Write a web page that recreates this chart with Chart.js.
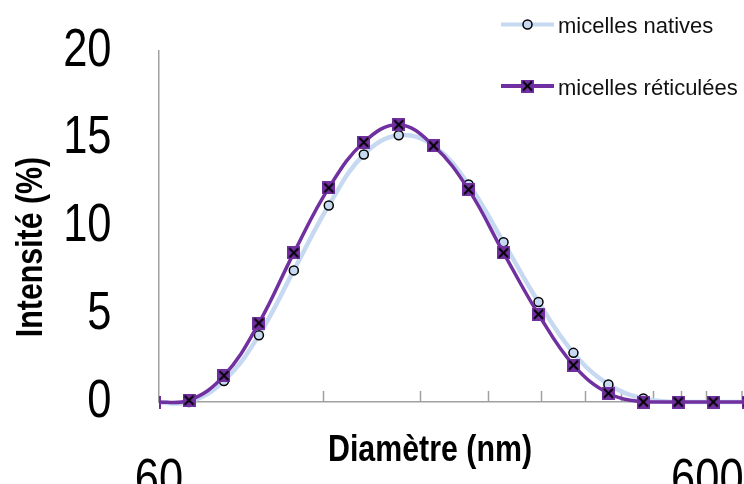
<!DOCTYPE html>
<html>
<head>
<meta charset="utf-8">
<script src="https://cdn.jsdelivr.net/npm/chart.js@4.4.0/dist/chart.umd.min.js"></script>
<style>
  html, body { margin: 0; padding: 0; background: #fff; overflow: hidden; }
  #cadre { position: relative; width: 744px; height: 484px; }
</style>
</head>
<body>
<div id="cadre"><canvas id="dls"></canvas></div>
<script>
// classes de taille (nm) et intensités (%)
const diametres = [58.77, 68.06, 78.82, 91.28, 105.7, 122.4, 141.8, 164.2, 190.1, 220.2, 255.0, 295.3, 342.0, 396.1, 458.7, 531.2, 615.1, 712.4];
const natives = [0, 0, 1.2, 3.8, 7.5, 11.2, 14.1, 15.2, 14.6, 12.4, 9.1, 5.7, 2.8, 1.0, 0.2, 0, 0, 0];
const reticulees = [0, 0.1, 1.5, 4.5, 8.5, 12.2, 14.8, 15.8, 14.6, 12.1, 8.5, 5.0, 2.1, 0.5, 0, 0, 0, 0];
const ticksX = [60, 120, 180, 240, 300, 360, 420, 480, 540, 600, 700];
const labelsX = [60, 600];
const ticksY = [0, 5, 10, 15, 20];

const bleu = '#c6d9f1';
const violet = '#7030a0';
const gris = '#a0a0a0';
const police = '"Liberation Sans", Arial, sans-serif';
const etroit = 0.82; // Arial Narrow ~ Arial compressé à 82 %

// marqueur carré violet avec une croix noire
function carreCroix(taille, couleur) {
    const c = document.createElement('canvas');
    c.width = taille;
    c.height = taille;
    const g = c.getContext('2d');
    g.fillStyle = couleur;
    g.fillRect(0, 0, taille, taille);
    g.strokeStyle = '#000';
    g.lineWidth = 1.8;
    g.beginPath();
    g.moveTo(2, 2); g.lineTo(taille - 2, taille - 2);
    g.moveTo(taille - 2, 2); g.lineTo(2, taille - 2);
    g.stroke();
    return c;
}
const marqueur = carreCroix(13, violet);

// texte en police étroite
function texteEtroit(ctx, txt, x, y, angle) {
    ctx.save();
    ctx.translate(x, y);
    if (angle) ctx.rotate(angle);
    ctx.scale(etroit, 1);
    ctx.fillText(txt, 0, 0);
    ctx.restore();
}

const habillage = {
    id: 'habillage',
    beforeDatasetsDraw(chart) {
        // petites graduations vers l'intérieur
        const { ctx, chartArea, scales: { x } } = chart;
        ctx.save();
        ctx.strokeStyle = gris;
        ctx.lineWidth = 1.5;
        ticksX.slice(1).forEach(v => {
            const px = Math.min(Math.round(x.getPixelForValue(v)) - 0.5, chartArea.right - 2);
            ctx.beginPath();
            ctx.moveTo(px, chartArea.bottom);
            ctx.lineTo(px, chartArea.bottom - 11);
            ctx.stroke();
        });
        ctx.restore();
    },
    afterDraw(chart) {
        const { ctx, chartArea, scales: { x, y } } = chart;
        ctx.save();
        ctx.fillStyle = '#000';

        // étiquettes des graduations
        ctx.font = '53px ' + police;
        ctx.textBaseline = 'middle';
        ctx.textAlign = 'right';
        y.ticks.forEach(t => {
            texteEtroit(ctx, String(t.value), chartArea.left - 47.5, y.getPixelForValue(t.value));
        });
        ctx.textAlign = 'center';
        x.ticks.forEach(t => {
            if (labelsX.includes(t.value)) {
                texteEtroit(ctx, String(t.value), x.getPixelForValue(t.value), chartArea.bottom + 79);
            }
        });

        // titres des axes
        ctx.font = 'bold 37px ' + police;
        ctx.textAlign = 'center';
        ctx.textBaseline = 'alphabetic';
        texteEtroit(ctx, 'Diamètre (nm)', chartArea.left + 271, chartArea.bottom + 59);
        texteEtroit(ctx, 'Intensité (%)', 42, 247, -Math.PI / 2);

        // légende
        ctx.font = '22px ' + police;
        ctx.textAlign = 'left';
        const lignes = [24.5, 86];
        chart.data.datasets.forEach((ds, i) => {
            const yl = lignes[i];
            ctx.strokeStyle = ds.borderColor;
            ctx.lineWidth = 4;
            ctx.beginPath();
            ctx.moveTo(501, yl);
            ctx.lineTo(554, yl);
            ctx.stroke();
            if (ds.pointStyle === 'circle') {
                ctx.beginPath();
                ctx.arc(527.5, yl, 4.5, 0, Math.PI * 2);
                ctx.fillStyle = ds.pointBackgroundColor;
                ctx.fill();
                ctx.lineWidth = 1.5;
                ctx.strokeStyle = '#000';
                ctx.stroke();
            } else {
                ctx.drawImage(marqueur, 527.5 - 6.5, yl - 6.5);
            }
            ctx.fillStyle = '#111';
            ctx.fillText(ds.label, 558, yl + 8.5);
        });
        ctx.restore();
    }
};

const ctx = document.getElementById('dls');
new Chart(ctx, {
    type: 'line',
    data: {
        datasets: [
            {
                label: 'micelles natives',
                data: diametres.map((d, i) => ({ x: d, y: natives[i] })),
                borderColor: bleu,
                borderWidth: 4.5,
                pointStyle: 'circle',
                pointRadius: 4.5,
                pointBackgroundColor: bleu,
                pointBorderColor: '#000',
                pointBorderWidth: 1.5,
                tension: 0.4,
                order: 1,
                clip: { left: 0, top: false, right: 0, bottom: false }
            },
            {
                label: 'micelles réticulées',
                data: diametres.map((d, i) => ({ x: d, y: reticulees[i] })),
                borderColor: violet,
                borderWidth: 3.5,
                pointStyle: marqueur,
                pointRadius: 6,
                tension: 0.4,
                order: 0,
                clip: { left: 0, top: false, right: 0, bottom: false }
            }
        ]
    },
    options: {
        responsive: true,
        maintainAspectRatio: false,
        animation: false,
        layout: { autoPadding: false, padding: { top: 51, left: 0, right: 0, bottom: 0 } },
        plugins: {
            legend: { display: false },
            tooltip: { enabled: false }
        },
        scales: {
            x: {
                type: 'logarithmic',
                min: 60,
                max: 700,
                afterBuildTicks: s => { s.ticks = ticksX.map(v => ({ value: v })); },
                afterFit: s => { s.height = 82; s.paddingLeft = 0; s.paddingRight = 0; },
                grid: { display: false },
                border: { display: true, color: gris, width: 1.5 },
                ticks: { display: false }
            },
            y: {
                min: 0,
                max: 20,
                afterBuildTicks: s => { s.ticks = ticksY.map(v => ({ value: v })); },
                afterFit: s => { s.width = 159; s.paddingTop = 0; s.paddingBottom = 0; },
                grid: { display: false },
                border: { display: true, color: gris, width: 1.5 },
                ticks: { display: false }
            }
        }
    },
    plugins: [habillage]
});
</script>
</body>
</html>
